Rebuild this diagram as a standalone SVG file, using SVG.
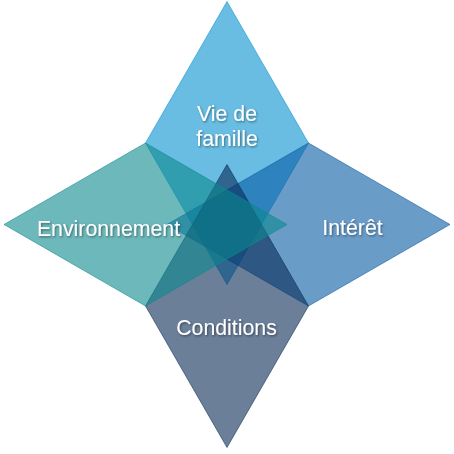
<svg xmlns="http://www.w3.org/2000/svg" width="454" height="454" viewBox="0 0 454 454">
  <defs>
    <filter id="txtShadow" x="-10%" y="-30%" width="120%" height="160%">
      <feDropShadow dx="1" dy="1.2" stdDeviation="0.9" flood-color="#000" flood-opacity="0.45"/>
    </filter>
  </defs>
  <style>
    .shape { fill-opacity: 0.6; stroke-opacity: 0.55; stroke-width: 1; stroke-linejoin: miter; }
    .label { font-family: "Liberation Sans", Arial, sans-serif; font-size: 21.3px; fill: #ffffff; text-anchor: middle; filter: url(#txtShadow); }
  </style>
  <rect width="454" height="454" fill="#ffffff"/>
  <!-- diamonds drawn clockwise from the top so the later ones tint the earlier -->
  <g id="vie-de-famille">
    <polygon class="shape" points="227,1.5 308.5,143 227,284.5 145.5,143" fill="#0591d0" stroke="#0591d0"/>
  </g>
  <g id="interet">
    <polygon class="shape" points="167,224.5 308.5,143 450,224.5 308.5,306" fill="#075aa3" stroke="#075aa3"/>
  </g>
  <g id="conditions">
    <polygon class="shape" points="227,164.5 308.5,306 227,447.5 145.5,306" fill="#082a55" stroke="#082a55"/>
  </g>
  <g id="environnement">
    <polygon class="shape" points="4,224.5 145.5,143 287,224.5 145.5,306" fill="#0c898e" stroke="#0c898e"/>
  </g>
  <g id="connectors"></g>
  <g id="labels">
    <text class="label" x="227" y="121">Vie de</text>
    <text class="label" x="227" y="146">famille</text>
    <text class="label" x="352.5" y="235">Intérêt</text>
    <text class="label" x="226.5" y="335">Conditions</text>
    <text class="label" x="108.5" y="236">Environnement</text>
  </g>
</svg>
